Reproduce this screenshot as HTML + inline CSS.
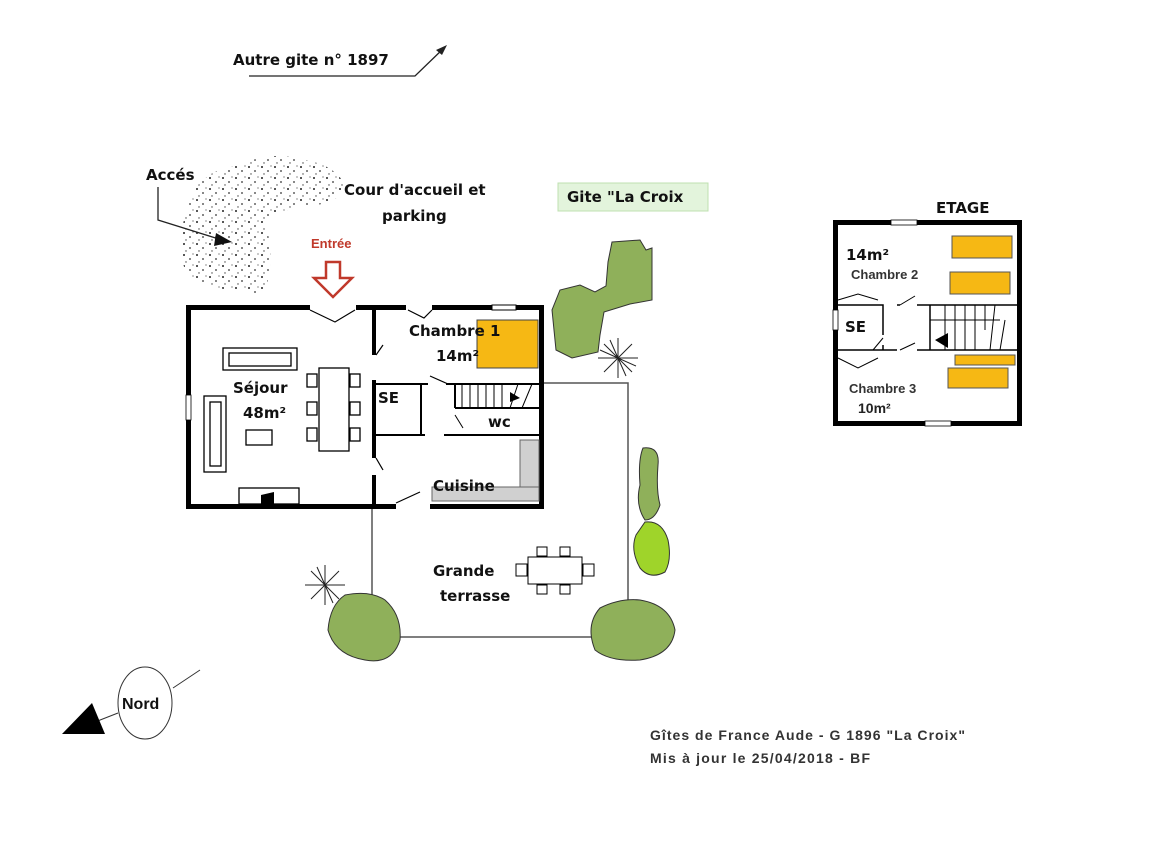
<!DOCTYPE html>
<html><head><meta charset="utf-8"><style>
html,body{margin:0;padding:0;background:#fff;}
svg{display:block;}
text{font-family:"Liberation Sans",sans-serif;}
.c{font-family:"Comic Sans MS","DejaVu Sans",sans-serif;font-weight:bold;font-size:15px;fill:#111;}
</style></head><body>
<svg width="1152" height="851" viewBox="0 0 1152 851" xmlns="http://www.w3.org/2000/svg">
<defs>
<pattern id="dots" width="13" height="11" patternUnits="userSpaceOnUse">
<circle cx="2" cy="2" r="1" fill="#222"/><circle cx="8" cy="6" r="0.9" fill="#333"/><circle cx="4" cy="9" r="0.7" fill="#444"/><circle cx="11" cy="1" r="0.6" fill="#444"/>
</pattern>
</defs>
<text x="233" y="65" class="c" font-size="14">Autre gite n° 1897</text>
<path d="M249 76 L415 76 L445 47" stroke="#222" stroke-width="1.3" fill="none"/>
<polygon points="447,45 436,50 442,55" fill="#222"/>

<path d="M190 200 Q200 170 240 165 Q270 150 305 160 Q335 165 345 185 Q340 205 310 205 Q280 208 265 225 Q275 250 268 280 Q265 300 240 290 Q200 290 185 270 Q175 240 190 200Z" fill="url(#dots)"/>
<text x="146" y="180" class="c" font-size="14">Accés</text>
<path d="M158 187 L158 220 L222 240" stroke="#222" stroke-width="1.3" fill="none"/>
<polygon points="232,242 216,233 214,246" fill="#111"/>
<text x="344" y="195" class="c">Cour d'accueil et</text>
<text x="382" y="221" class="c">parking</text>
<text x="311" y="248" font-size="13" font-weight="bold" fill="#c0392b">Entrée</text>
<path d="M326 262 H340 V278 H352 L333 297 L314 278 H326 Z" fill="#fff" stroke="#c0392b" stroke-width="2.5"/>

<rect x="558" y="183" width="150" height="28" fill="#e3f4dc" stroke="#bfe0b0"/>
<text x="567" y="202" class="c" font-size="14">Gite "La Croix</text>

<g fill="#000">
<rect x="186" y="305" width="124" height="5"/>
<rect x="356" y="305" width="50" height="5"/>
<rect x="432" y="305" width="60" height="5"/>
<rect x="516" y="305" width="28" height="5"/>
<rect x="186" y="305" width="5" height="204"/>
<rect x="539" y="305" width="5" height="204"/>
<rect x="186" y="504" width="210" height="5"/>
<rect x="430" y="504" width="114" height="5"/>
<rect x="372" y="305" width="4" height="50"/>
<rect x="372" y="380" width="4" height="78"/>
<rect x="372" y="475" width="4" height="34"/>
</g>
<rect x="492" y="305" width="24" height="5" fill="#fff" stroke="#000" stroke-width="1"/>
<rect x="186" y="395" width="5" height="25" fill="#fff" stroke="#000" stroke-width="0.8"/>
<g stroke="#000" stroke-width="1.2" fill="none">
<path d="M310 310 L335 322 L355 310"/>
<path d="M408 310 L424 318 L432 310"/>
<path d="M376 355 L383 345"/>
<path d="M376 458 L383 470"/>
<path d="M396 503 L420 492"/>
<path d="M430 376 L448 384"/>
</g>
<rect x="477" y="320" width="61" height="48" fill="#f6b814" stroke="#444"/>
<text x="409" y="336" class="c" font-size="16">Chambre 1</text>
<text x="436" y="361" class="c" font-size="16">14m²</text>
<g stroke="#000" stroke-width="2" fill="none">
<path d="M376 384 H428"/>
<path d="M421 384 V435"/>
<path d="M376 435 H425 M444 435 H539"/>
<path d="M446 384 H539 M455 408 H539 M455 384 V408"/>
</g>
<g stroke="#000" stroke-width="1">
<path d="M462 384 V408 M470 384 V408 M478 384 V408 M486 384 V408 M494 384 V408 M502 384 V408"/>
<path d="M510 408 L518 384 M522 408 L532 384"/>
<path d="M455 415 L463 428"/>
</g>
<polygon points="510,392 520,398 510,402" fill="#000"/>
<text x="378" y="403" class="c" font-size="15">SE</text>
<text x="488" y="427" class="c" font-size="13">wc</text>
<rect x="520" y="440" width="19" height="58" fill="#d0d0d0" stroke="#666"/>
<rect x="432" y="487" width="107" height="14" fill="#d0d0d0" stroke="#666"/>
<text x="433" y="491" class="c" font-size="15">Cuisine</text>
<g fill="#fff" stroke="#000" stroke-width="1.3">
<rect x="223" y="348" width="74" height="22"/><rect x="229" y="353" width="62" height="13"/>
<rect x="204" y="396" width="22" height="76"/><rect x="210" y="402" width="11" height="64"/>
<rect x="319" y="368" width="30" height="83"/>
<rect x="307" y="374" width="10" height="13"/><rect x="307" y="402" width="10" height="13"/><rect x="307" y="428" width="10" height="13"/>
<rect x="350" y="374" width="10" height="13"/><rect x="350" y="402" width="10" height="13"/><rect x="350" y="428" width="10" height="13"/>
<rect x="246" y="430" width="26" height="15"/>
<rect x="239" y="488" width="60" height="16"/>
</g>
<polygon points="261,504 261,495 274,492 274,504" fill="#000"/>
<text x="233" y="393" class="c" font-size="17">Séjour</text>
<text x="243" y="418" class="c" font-size="17">48m²</text>

<g stroke="#555" stroke-width="1.5" fill="none">
<path d="M372 509 V637 H600"/>
<path d="M544 383 H628 V620"/>
</g>
<g fill="#fff" stroke="#000" stroke-width="1">
<rect x="528" y="557" width="54" height="27"/>
<rect x="537" y="547" width="10" height="9"/><rect x="560" y="547" width="10" height="9"/>
<rect x="537" y="585" width="10" height="9"/><rect x="560" y="585" width="10" height="9"/>
<rect x="516" y="564" width="11" height="12"/><rect x="583" y="564" width="11" height="12"/>
</g>
<text x="433" y="576" class="c">Grande</text>
<text x="440" y="601" class="c">terrasse</text>

<g stroke="#333" stroke-width="1" fill="#8fb05a">
<path d="M612 242 L640 240 L646 250 L652 248 L652 300 L630 304 L604 312 L600 335 L598 352 L572 358 L556 350 L552 310 L560 290 L580 285 L595 292 L606 286 L608 262 Z"/>
<path d="M643 448 Q660 446 658 465 Q656 490 660 505 Q655 520 645 520 Q635 505 640 485 Q638 460 643 448Z"/>
<path d="M600 608 Q620 598 640 600 Q670 605 675 630 Q672 655 640 660 Q610 662 595 650 Q585 625 600 608Z"/>
<path d="M345 595 Q370 590 385 600 Q402 615 400 640 Q392 665 365 660 Q335 655 328 630 Q330 605 345 595Z"/>
</g>
<path d="M645 522 Q662 520 668 540 Q672 560 665 572 Q650 580 640 568 Q630 550 636 535 Z" fill="#9fd42a" stroke="#333"/>
<g stroke="#222" stroke-width="1">
<path d="M618 338 V378 M598 358 H638 M604 344 L632 372 M604 372 L632 344 M610 340 L626 376 M600 350 L636 366"/>
<path d="M325 565 V605 M305 585 H345 M311 571 L339 599 M311 599 L339 571 M317 567 L333 603"/>
</g>

<ellipse cx="145" cy="703" rx="27" ry="36" fill="#fff" stroke="#333" stroke-width="1"/>
<text x="122" y="709" font-size="16" font-weight="bold" fill="#111">Nord</text>
<path d="M173 688 L200 670 M118 713 L95 722" stroke="#333" stroke-width="1"/>
<polygon points="62,734 92,703 105,734" fill="#000"/>

<text x="936" y="213" class="c" font-size="15">ETAGE</text>
<g fill="#000">
<rect x="833" y="220" width="58" height="5"/><rect x="917" y="220" width="105" height="5"/>
<rect x="833" y="421" width="92" height="5"/><rect x="951" y="421" width="71" height="5"/>
<rect x="833" y="220" width="5" height="206"/><rect x="1017" y="220" width="5" height="206"/>
</g>
<rect x="891" y="220" width="26" height="5" fill="#fff" stroke="#000" stroke-width="0.8"/>
<rect x="925" y="421" width="26" height="5" fill="#fff" stroke="#000" stroke-width="0.8"/>
<rect x="833" y="310" width="5" height="20" fill="#fff" stroke="#000" stroke-width="0.8"/>
<g stroke="#000" stroke-width="1.5" fill="none">
<path d="M838 305 H883 V335 M883 345 V350 M838 350 H897 M917 350 H1017"/>
<path d="M917 305 H1017 M897 305 H900"/>
<path d="M930 305 V350"/>
</g>
<g stroke="#000" stroke-width="1" fill="none">
<path d="M838 300 L858 294 L878 300 M900 305 L915 296"/>
<path d="M838 358 L858 368 L878 358 M900 350 L915 343"/>
<path d="M883 338 L873 350"/>
<path d="M945 305 V350 M955 305 V350 M965 305 V350 M975 305 V350 M985 305 V330 M930 320 H1000 M995 305 L990 350 M1005 320 L1000 350"/>
</g>
<polygon points="935,340 948,333 948,348" fill="#000"/>
<rect x="952" y="236" width="60" height="22" fill="#f6b814" stroke="#555"/>
<rect x="950" y="272" width="60" height="22" fill="#f6b814" stroke="#555"/>
<rect x="955" y="355" width="60" height="10" fill="#f6b814" stroke="#555"/>
<rect x="948" y="368" width="60" height="20" fill="#f6b814" stroke="#555"/>
<text x="846" y="260" class="c" font-size="15">14m²</text>
<text x="851" y="279" font-size="13" font-weight="bold" fill="#333">Chambre 2</text>
<text x="845" y="332" class="c" font-size="15">SE</text>
<text x="849" y="393" font-size="13" font-weight="bold" fill="#333">Chambre 3</text>
<text x="858" y="413" font-size="14" font-weight="bold" fill="#222">10m²</text>

<text x="650" y="740" font-size="14" font-weight="bold" fill="#333" textLength="315">Gîtes de France Aude - G 1896  "La Croix"</text>
<text x="650" y="763" font-size="14" font-weight="bold" fill="#333" textLength="220">Mis à jour le 25/04/2018 - BF</text>
</svg>
</body></html>
